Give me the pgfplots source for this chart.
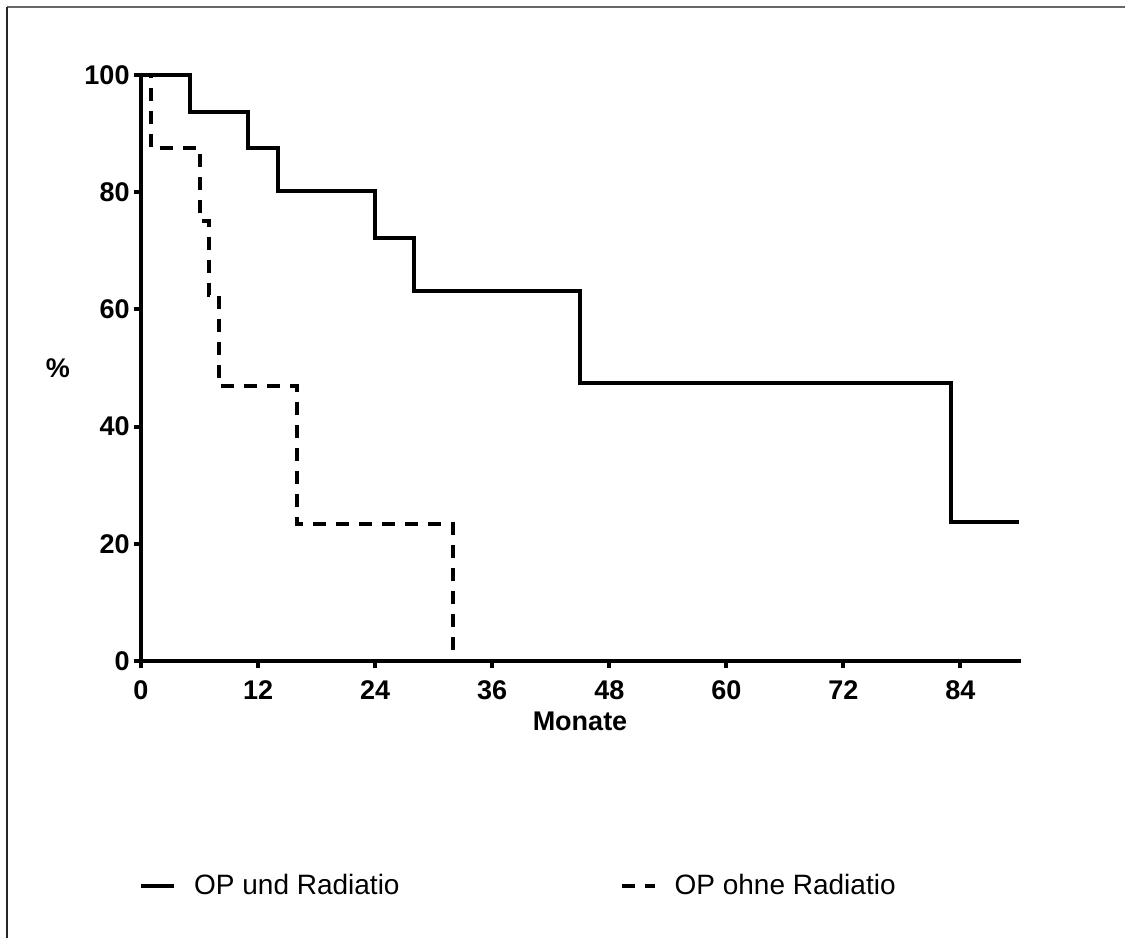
\documentclass[border=0pt]{standalone}
\usepackage{fontspec}
\setmainfont{Liberation Sans}
\usepackage{pgfplots}
\pgfplotsset{compat=1.18}
\begin{document}
\begin{tikzpicture}
\path[use as bounding box] (0,0) rectangle (562.5pt,469pt);
\draw[line width=0.75pt, color=black!60] (3.5pt,465.5pt) -- (562.5pt,465.5pt);
\draw[line width=0.75pt, color=black!85] (3.5pt,0pt) -- (3.5pt,465.5pt);
\begin{axis}[
  at={(70.5pt,138.5pt)}, anchor=south west,
  scale only axis, width=439pt, height=293pt,
  xmin=0, xmax=90, ymin=0, ymax=100,
  axis x line*=bottom, axis y line*=left,
  axis line style={line width=2pt, line cap=rect},
  xtick={0,12,...,84}, ytick={0,20,...,100},
  tick align=outside, major tick length=3.5pt,
  tick style={line width=2pt, black},
  /pgf/number format/assume math mode=true,
  ticklabel style={font=\fontsize{13.5}{15}\selectfont\bfseries},
  xticklabel style={yshift=-3pt},
  yticklabel style={xshift=1.3pt},
  xlabel={Monate}, ylabel={\%},
  every axis x label/.style={at={(axis description cs:0.5,0)}, anchor=center, yshift=-30pt, font=\fontsize{13.5}{16}\selectfont\bfseries},
  every axis y label/.style={at={(axis description cs:0,0.5)}, anchor=center, xshift=-41.5pt, font=\fontsize{13.5}{16}\selectfont\bfseries},
  clip=false,
  legend columns=2,
  legend style={draw=none, fill=none, at={(axis description cs:0.002,-0.384)}, anchor=west, xshift=-2pt, font=\fontsize{14}{16}\selectfont, inner sep=0pt,
    /tikz/every odd column/.append style={column sep=7pt},
    /tikz/every even column/.append style={column sep=108pt}},
  legend image code/.code={\draw[#1] (0pt,0pt) -- (16.5pt,0pt);},
]
\addplot[const plot, line width=2pt, black] coordinates {
(0,100) (5,93.75) (11,87.5) (14,80.2) (24,72.2) (28,63.2) (45,47.4) (83,23.7) (90,23.7)
};
\addlegendentry{OP und Radiatio}
\addplot[const plot, line width=2pt, black, dash pattern=on 6.5pt off 5pt] coordinates {
(0,100) (1,87.5) (6,75) (7,62.5) (8,46.9) (16,23.4) (32,0)
};
\addlegendentry{OP ohne Radiatio}
\end{axis}
\end{tikzpicture}
\end{document}
